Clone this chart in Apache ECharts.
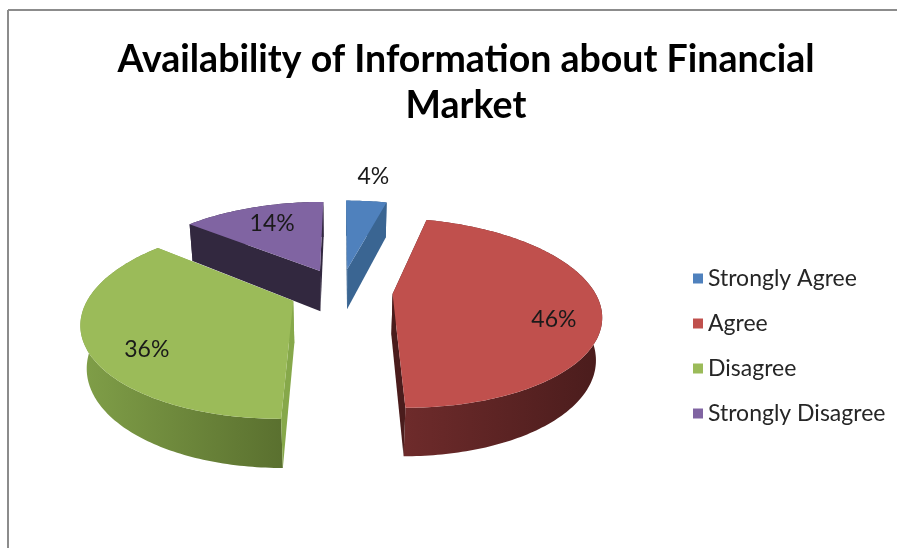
<!DOCTYPE html>
<html><head><meta charset="utf-8">
<script src="https://cdn.jsdelivr.net/npm/echarts@6/dist/echarts.min.js"></script>
<style>html,body{margin:0;padding:0;background:#fff}#c{width:898px;height:548px}</style>
</head><body><div id="c"></div>
<script>
// ---- data ----
const categories = ['Strongly Agree', 'Agree', 'Disagree', 'Strongly Disagree'];
const values = [4, 46, 36, 14];
const percentLabels = ['4%', '46%', '36%', '14%'];
const titleText = 'Availability of Information about Financial\nMarket';

// ---- styles ----
const topColors = ['#4f81bd', '#c0504d', '#9bbb59', '#8064a2'];
const wallColors = [['#416e9e', '#345a84'], ['#6e2b2b', '#4a1c1c'], ['#809f48', '#5a702f'], ['#3a2d4b', '#2f2540']];
const cutColors = ['#3a6592', '#4a1c1c', '#86a84a', '#32283f'];
const labelPlace = [{ r: 1.45, dy: 0 }, { r: 0.78, dy: 17 }, { r: 0.72, dy: 18 }, { r: 0.68, dy: -2 }];
const FONT = 'Lato, "Open Sans", sans-serif';

// perspective projection of a tilted disc
const P = { cx: 341, cy: 291, f: 912, L: 4.52, sa: 0.446, ca: 0.895, h: 0.235, explode: 0.256 };
function proj(X, Y, Z) {
  const s = Y * P.ca + Z * P.sa;
  const w = Z * P.ca - Y * P.sa;
  const d = P.L + w;
  return [P.cx + P.f * X / d, P.cy - P.f * s / d];
}
const total = values.reduce((a, b) => a + b, 0);
const startAng = [];
{ let acc = 0; values.forEach(v => { startAng.push(acc / total * 360); acc += v; }); }
const rad = a => a * Math.PI / 180;

function makeRender(i) {
  return function (params, api) {
    const v = api.value(0);
    const a0 = startAng[i], a1 = a0 + v / total * 360, am = (a0 + a1) / 2;
    const ex = P.explode * Math.sin(rad(am)), ez = P.explode * Math.cos(rad(am));
    const n = Math.max(2, Math.ceil(a1 - a0));
    const topArc = [], botArc = [];
    for (let k = 0; k <= n; k++) {
      const a = rad(a0 + (a1 - a0) * k / n);
      const X = ex + Math.sin(a), Z = ez + Math.cos(a);
      topArc.push(proj(X, 0, Z));
      botArc.push(proj(X, -P.h, Z));
    }
    const cT = proj(ex, 0, ez), cB = proj(ex, -P.h, ez);
    const children = [];
    children.push({
      type: 'polygon',
      shape: { points: topArc.concat(botArc.slice().reverse()) },
      style: { fill: new echarts.graphic.LinearGradient(0, 0, 1, 0, [
        { offset: 0, color: wallColors[i][0] }, { offset: 1, color: wallColors[i][1] }]) }
    });
    [0, n].forEach(k => {
      children.push({
        type: 'polygon',
        shape: { points: [cT, topArc[k], botArc[k], cB] },
        style: { fill: cutColors[i] }
      });
    });
    children.push({
      type: 'polygon',
      shape: { points: [cT].concat(topArc) },
      style: { fill: topColors[i] }
    });
    const lp = labelPlace[i];
    const lpt = proj(ex + lp.r * Math.sin(rad(am)), 0, ez + lp.r * Math.cos(rad(am)));
    children.push({
      type: 'text',
      z2: 10,
      style: {
        text: percentLabels[i], x: lpt[0], y: lpt[1] + lp.dy,
        align: 'center', verticalAlign: 'middle',
        fill: '#1a1a1a', fontSize: 23, fontFamily: FONT
      }
    });
    return { type: 'group', children: children };
  };
}

// depth order (farther slices drawn first)
const depth = values.map((v, i) => {
  const am = startAng[i] + v / total * 180;
  return Math.cos(rad(am));
});
const order = depth.map((d, i) => i).sort((a, b) => depth[b] - depth[a]);
const zOf = {}; order.forEach((idx, r) => { zOf[idx] = 2 + r; });

const series = categories.map((name, i) => ({
  type: 'custom',
  name: name,
  coordinateSystem: 'none',
  z: zOf[i],
  itemStyle: { color: topColors[i] },
  data: [values[i]],
  renderItem: makeRender(i),
  animation: false
}));

const chart = echarts.init(document.getElementById('c'));
chart.setOption({
  backgroundColor: '#ffffff',
  animation: false,
  title: {
    text: titleText,
    left: 461,
    textAlign: 'center',
    top: 32,
    textStyle: { fontSize: 37.5, fontWeight: 'bold', color: '#000', fontFamily: FONT, lineHeight: 46 }
  },
  legend: {
    data: categories,
    orient: 'vertical',
    left: 688,
    top: 262,
    icon: 'rect',
    itemWidth: 10,
    itemHeight: 10,
    itemGap: 22,
    textStyle: { fontSize: 23, color: '#262626', fontFamily: FONT }
  },
  graphic: [
    { type: 'line', shape: { x1: 8, y1: 10, x2: 897, y2: 10 }, style: { stroke: '#8c8c8c', lineWidth: 2 }, silent: true },
    { type: 'line', shape: { x1: 8, y1: 10, x2: 8, y2: 548 }, style: { stroke: '#8c8c8c', lineWidth: 2 }, silent: true }
  ],
  series: series
});
</script>
</body></html>
